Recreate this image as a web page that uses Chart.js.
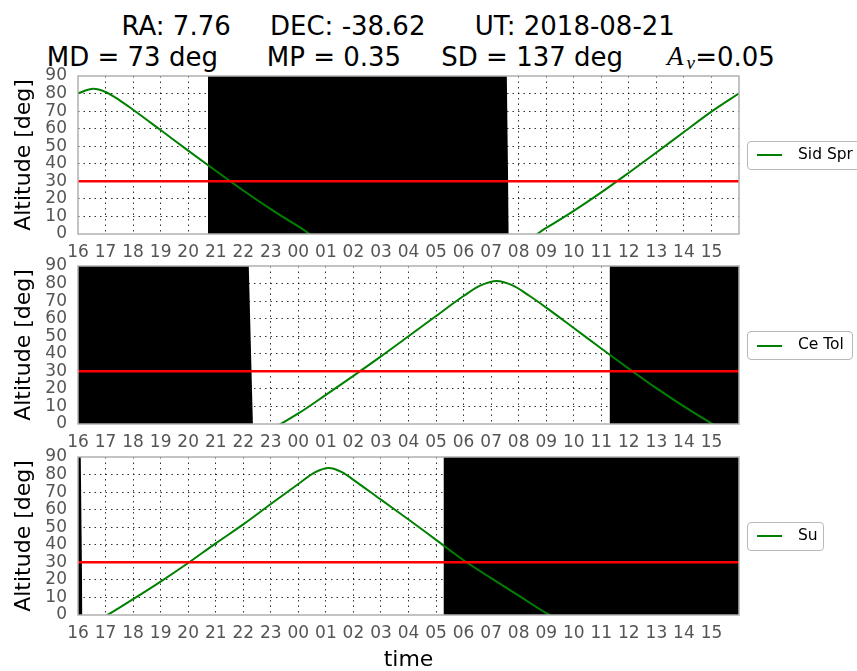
<!DOCTYPE html>
<html>
<head>
<meta charset="utf-8">
<script src="https://cdn.jsdelivr.net/npm/chart.js@4.4.0/dist/chart.umd.min.js"></script>
<style>
html,body{margin:0;padding:0;background:#fff;}
body{width:857px;height:671px;overflow:hidden;position:relative;font-family:'DejaVu Sans',sans-serif;}
.t{position:absolute;font-size:26px;line-height:26px;white-space:pre;color:#000;font-family:'DejaVu Sans',sans-serif;}
.m{position:absolute;white-space:pre;color:#000;font-family:'Liberation Serif',serif;font-style:italic;}
canvas{position:absolute;left:0;}
.leg{position:absolute;left:747px;height:29px;border:1px solid #b8b8b8;border-radius:4px;background:#fff;box-sizing:border-box;}
.leg .ln{position:absolute;left:9px;top:12.5px;width:25px;height:2px;background:#008000;}
.leg .tx{position:absolute;left:50px;top:0;line-height:27px;font-size:15.5px;white-space:pre;color:#000;margin-top:-1px;}
</style>
</head>
<body>
<span class="t" style="left:121.5px;top:13px">RA: 7.76</span>
<span class="t" style="left:270px;top:13px">DEC: -38.62</span>
<span class="t" style="left:474.7px;top:13px">UT: 2018-08-21</span>
<span class="t" style="left:46.8px;top:44px">MD = 73 deg</span>
<span class="t" style="left:266.8px;top:44px">MP = 0.35</span>
<span class="t" style="left:441.3px;top:44px">SD = 137 deg</span>
<span class="m" style="left:667px;top:43.4px;font-size:27px;line-height:27px">A</span>
<span class="m" style="left:686.5px;top:53.1px;font-size:19px;line-height:19px">v</span>
<span class="t" style="left:695.2px;top:44px">=0.05</span>

<canvas id="c1" width="857" height="210" style="top:54px"></canvas>
<canvas id="c2" width="857" height="210" style="top:244px"></canvas>
<canvas id="c3" width="857" height="245" style="top:435px"></canvas>

<div class="leg" style="top:140.5px;width:120px"><div class="ln"></div><div class="tx">Sid Spr</div></div>
<div class="leg" style="top:331px;width:105.5px"><div class="ln"></div><div class="tx">Ce Tol</div></div>
<div class="leg" style="top:521.5px;width:76.5px"><div class="ln"></div><div class="tx">Su</div></div>

<script>
// ---- data ----
const hourLabels = ['16','17','18','19','20','21','22','23','00','01','02','03','04','05','06','07','08','09','10','11','12','13','14','15'];
const xMin = 0, xMax = 24;
const yMin = 0, yMax = 90, yStep = 10;
const altLimit = 30;

// Siding Spring (hours after 16:00, altitude in deg)
const sidSprHours = [0, 0.55, 1, 1.5, 2, 3, 4, 5, 6, 7, 8, 9, 16, 17, 18, 19, 20, 21, 22, 23, 24];
const sidSprAlt   = [80.1, 82.7, 80.9, 76.3, 70.8, 59.2, 47.5, 36.0, 24.8, 14.2, 4.4, -4.3, -5.1, 3.5, 13.2, 23.7, 34.9, 46.4, 58.1, 69.7, 80.1];
const sidSprDarkX = [[4.72, 4.72, 15.57, 15.64]];
const sidSprDarkY = [[0, 90, 90, 0]];

// Cerro Tololo
const ceTolHours = [6, 7, 8, 9, 10, 11, 12, 13, 14, 14.6, 15.2, 15.8, 16.4, 17, 18, 19, 20, 21, 22, 23, 24];
const ceTolAlt   = [-10.8, -3.1, 6.0, 16.6, 27.4, 38.5, 50.0, 61.5, 72.9, 78.8, 81.5, 78.8, 72.9, 66.3, 54.7, 43.0, 31.5, 20.4, 10.0, 0.4, -7.9];
const ceTolDarkX = [[0, 0, 6.2, 6.35], [19.3, 19.3, 24, 24]];
const ceTolDarkY = [[0, 90, 90, 0], [0, 90, 90, 0]];

// Sutherland
const suHours = [0, 1, 2, 3, 4, 5, 6, 7, 8, 8.6, 9.1, 9.6, 10, 11, 12, 13, 14, 15, 16, 17, 18];
const suAlt   = [-8.3, -0.6, 9.0, 19.0, 29.6, 40.8, 51.6, 63.2, 74.6, 81.3, 83.8, 81.3, 77.0, 65.7, 54.4, 42.8, 31.2, 21.0, 11.0, 1.1, -6.9];
const suDarkX = [[0, 0, 0.1, 0.16], [13.27, 13.27, 24, 24]];
const suDarkY = [[0, 90, 90, 0], [0, 90, 90, 0]];

// ---- drawing ----
Chart.defaults.font.family = "'DejaVu Sans', sans-serif";
const dotColor = 'rgba(0,0,0,0.8)';

const framePlugin = {
  id: 'frame',
  afterDraw(chart) {
    const {ctx, chartArea: a} = chart;
    ctx.save();
    ctx.strokeStyle = '#b0b0b0';
    ctx.lineWidth = 1.5;
    ctx.strokeRect(a.left, a.top, a.right - a.left, a.bottom - a.top);
    ctx.restore();
  }
};

function makePanel(id, hours, alts, darkX, darkY, xTitle, xAxisH) {
  const pts = (xs, ys) => xs.map((x, i) => ({x: x, y: ys[i]}));
  const datasets = [];
  darkX.forEach((xs, k) => {
    datasets.push({data: pts(xs, darkY[k]), fill: 'origin', backgroundColor: '#000',
      borderWidth: 0, borderColor: 'rgba(0,0,0,0)', pointRadius: 0, tension: 0, order: 3});
  });
  datasets.push({data: pts(hours, alts), borderColor: '#008000', borderWidth: 2,
    pointRadius: 0, cubicInterpolationMode: 'monotone', fill: false, order: 2});
  datasets.push({data: [{x: xMin, y: altLimit}, {x: xMax, y: altLimit}], borderColor: '#ff0000',
    borderWidth: 2.5, pointRadius: 0, fill: false, order: 1});

  return new Chart(document.getElementById(id), {
    type: 'line',
    data: {datasets},
    options: {
      responsive: false,
      animation: false,
      layout: {padding: {top: 22, right: 118, left: 0, bottom: 0}},
      plugins: {legend: {display: false}, tooltip: {enabled: false}},
      scales: {
        x: {
          type: 'linear', min: xMin, max: xMax,
          border: {display: false, dash: [1.5, 4]},
          grid: {drawTicks: false, lineWidth: 1,
            color: c => (c.tick && (c.tick.value === xMin || c.tick.value === xMax)) ? 'rgba(0,0,0,0)' : dotColor},
          ticks: {stepSize: 1, autoSkip: false, maxRotation: 0, minRotation: 0, padding: 8,
            color: '#555', font: {size: 17},
            callback: v => (hourLabels[v] !== undefined ? hourLabels[v] : '')},
          title: {display: !!xTitle, text: xTitle || '', color: '#000', font: {size: 22}, padding: {top: 0, bottom: 7}},
          afterFit: s => { s.height = xAxisH; }
        },
        y: {
          min: yMin, max: yMax,
          border: {display: false, dash: [1.5, 4]},
          grid: {drawTicks: false, lineWidth: 1,
            color: c => (c.tick && (c.tick.value === yMin || c.tick.value === yMax)) ? 'rgba(0,0,0,0)' : dotColor},
          ticks: {stepSize: yStep, autoSkip: false, padding: 11, color: '#555', font: {size: 17}},
          title: {display: true, text: 'Altitude [deg]', color: '#000', font: {size: 22}, padding: {top: 11, bottom: 0}},
          afterFit: s => { s.width = 78; }
        }
      }
    },
    plugins: [framePlugin]
  });
}

makePanel('c1', sidSprHours, sidSprAlt, sidSprDarkX, sidSprDarkY, null, 30);
makePanel('c2', ceTolHours, ceTolAlt, ceTolDarkX, ceTolDarkY, null, 30);
makePanel('c3', suHours, suAlt, suDarkX, suDarkY, 'time', 65);
</script>
</body>
</html>
